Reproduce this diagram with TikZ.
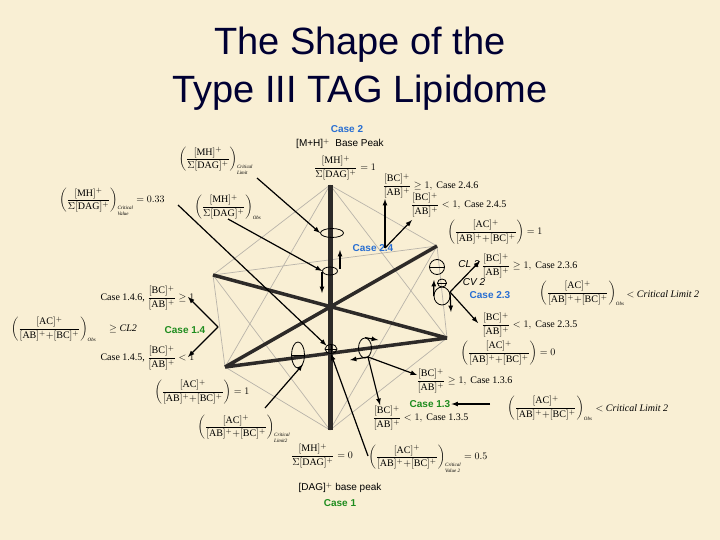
\documentclass[tikz,border=0pt]{standalone}
\usepackage{amsmath}
\usepackage{fontspec}
\usetikzlibrary{shapes.geometric}
\setmainfont{Liberation Serif}
\newfontfamily\sansf{Liberation Sans}
\newcommand\XMH{\dfrac{[\mathrm{MH}]^+}{\Sigma[\mathrm{DAG}]^+}}
\newcommand\XBC{\dfrac{[\mathrm{BC}]^+}{[\mathrm{AB}]^+}}
\newcommand\XAC{\dfrac{[\mathrm{AC}]^+}{[\mathrm{AB}]^+ {+} [\mathrm{BC}]^+}}
\newcommand\XSub[1]{\text{\tiny\itshape\begin{tabular}{@{}l@{}}#1\end{tabular}}}
\definecolor{bg}{RGB}{249,239,212}
\definecolor{cblue}{RGB}{40,110,210}
\definecolor{cgreen}{RGB}{30,140,30}
\definecolor{edge}{RGB}{185,180,170}
\definecolor{thk}{RGB}{45,42,40}
\tikzset{
 fm/.style={font=\fontsize{10}{11}\selectfont, inner sep=0.5pt},
 ttl/.style={font=\sansf\fontsize{38}{40}\selectfont, text=black!80!blue},
 cb/.style={font=\sansf\bfseries\fontsize{10}{11}\selectfont, text=cblue, inner sep=1pt},
 cg/.style={font=\sansf\bfseries\fontsize{10}{11}\selectfont, text=cgreen, inner sep=1pt},
 lbl/.style={font=\sansf\fontsize{10}{11}\selectfont, inner sep=1pt},
 thin/.style={draw=edge, line width=0.7pt},
 thick/.style={draw=thk, line width=3.5pt},
 arr/.style={-latex, line width=1.2pt},
 ell/.style={draw, line width=0.8pt}
}
\begin{document}
\begin{tikzpicture}[x=1pt,y=-1pt]
\fill[bg] (0,0) rectangle (720,540);
\useasboundingbox (0,0) rectangle (720,540);
% title
\node[ttl] (t1) at (360,45) {The Shape of the};
\node[ttl] (t2) at (360,93) {Type III TAG Lipidome};
% vertices
\coordinate (T) at (330,185);
\coordinate (Bo) at (330,430);
\coordinate (L1) at (213,275);
\coordinate (R1) at (437,246);
\coordinate (R2) at (447,338);
\coordinate (L2) at (225,367);
\draw[thin] (T)--(L1) (T)--(R1) (T)--(R2) (T)--(L2) (Bo)--(L1) (Bo)--(R1) (Bo)--(R2) (Bo)--(L2)
 (L1)--(R1) (R1)--(R2) (L1)--(L2);
\draw[thick] (L1)--(R2) (L2)--(R1) (L2)--(R2);
\draw[draw=thk, line width=5pt] (T)--(Bo);
% ellipses
\node[ell, ellipse, minimum width=23pt, minimum height=9pt, inner sep=0pt] (e1) at (332,233) {};
\node[ell, ellipse, minimum width=15pt, minimum height=8pt, inner sep=0pt] (e2) at (330,271) {};
\node[ell, circle, minimum size=15pt, inner sep=0pt] (e3) at (437,267) {};
\draw (e3.west)--(e3.east);
\node[ell, ellipse, minimum width=9pt, minimum height=8pt, inner sep=0pt] (e4) at (442,283) {};
\draw (e4.west)--(e4.east);
\node[ell, ellipse, minimum width=16pt, minimum height=18pt, inner sep=0pt] (e5) at (442,296) {};
\node[ell, ellipse, minimum width=13pt, minimum height=26pt, inner sep=0pt] (e6) at (298,355) {};
\draw (e6.west)--(e6.east);
\node[ell, ellipse, minimum width=12pt, minimum height=9pt, inner sep=0pt] (e7) at (331,349) {};
\draw (e7.west)--(e7.east) (e7.north)--(e7.south);
\node[ell, ellipse, minimum width=13pt, minimum height=20pt, inner sep=0pt] (e8) at (365,348) {};
% top labels
\node[cb] (c2) at (347,129) {Case 2};
\node[lbl] (mhp) at (340,144) {[M+H]$^+$\ \ Base Peak};
\node[fm] (f1) at (345,168) {$\XMH=1$};
\node[fm] (f2) at (216,162) {$\left(\XMH\right)_{\XSub{Critical\\Limit}}$};
\node[fm] (f3) at (112,203) {$\left(\XMH\right)_{\XSub{Critical\\Value}}=0.33$};
\node[fm] (f4) at (228,208) {$\left(\XMH\right)_{\XSub{Obs}}$};
\node[fm, anchor=west] (f5) at (382,186) {$\XBC\ge1,\ \text{Case 2.4.6}$};
\node[fm, anchor=west] (f6) at (410,205) {$\XBC<1,\ \text{Case 2.4.5}$};
\node[fm] (f7) at (495,232) {$\left(\XAC\right)=1$};
\node[cb] (c24) at (373,248) {Case 2.4};
\node[lbl, font=\sansf\itshape\fontsize{10}{11}\selectfont] (cl2) at (469,264) {CL 2};
\node[lbl, font=\sansf\itshape\fontsize{10}{11}\selectfont] (cv2) at (474,282) {CV 2};
\node[fm, anchor=west] (f8) at (481,266) {$\XBC\ge1,\ \text{Case 2.3.6}$};
\node[cb] (c23) at (490,295) {Case 2.3};
\node[fm] (f9) at (582,294) {$\left(\XAC\right)_{\XSub{Obs}}$};
\node[fm, anchor=west] (f9b) at (626,294) {$<$ \textit{Critical Limit 2}};
\node[fm, anchor=west] (f10) at (481,325) {$\XBC<1,\ \text{Case 2.3.5}$};
\node[fm] (f11) at (508,353) {$\left(\XAC\right)=0$};
\node[fm, anchor=west] (f12) at (416,381) {$\XBC\ge1,\ \text{Case 1.3.6}$};
\node[fm] (f13) at (550,409) {$\left(\XAC\right)_{\XSub{Obs}}$};
\node[cg] (c13) at (430,404) {Case 1.3};
\node[fm, anchor=west] (f13b) at (595,408) {$<$ \textit{Critical Limit 2}};
\node[fm, anchor=west] (f14) at (372,418) {$\XBC<1,\ \text{Case 1.3.5}$};
% left labels
\node[fm, anchor=east] (f15) at (195,298) {Case 1.4.6, $\XBC\ge1$};
\node[fm] (f16) at (74,330) {$\left(\XAC\right)_{\XSub{Obs}}\quad\ge \mathit{CL2}$};
\node[cg] (c14) at (185,330) {Case 1.4};
\node[fm, anchor=east] (f17) at (195,358) {Case 1.4.5, $\XBC<1$};
\node[fm] (f18) at (202,392) {$\left(\XAC\right)=1$};
\node[fm] (f19) at (244,430) {$\left(\XAC\right)_{\XSub{Critical\\Limit2}}$};
\node[fm] (f20) at (322,456) {$\XMH=0$};
\node[fm] (f21) at (428,460) {$\left(\XAC\right)_{\XSub{Critical\\Value 2}}=0.5$};
\node[lbl] (dag) at (340,488) {[DAG]$^+$ base peak};
\node[cg] (c1) at (340,503) {Case 1};
% arrow anchors
\coordinate (a1) at (257,178);
\coordinate (a2) at (228,219);
\coordinate (a3) at (178,205);
\coordinate (a4) at (385,248);
\coordinate (a5) at (450,292);
\coordinate (a6) at (218,327);
\coordinate (a7) at (265,408);
\coordinate (a8) at (368,456);
\coordinate (a9) at (368,357);
\coordinate (a10) at (490,404);
\coordinate (u1) at (340,269);
\coordinate (d1) at (322,272);
% arrows
\draw[arr] (a1) -- (e1.west);
\draw[arr] (a2) -- (e2.west);
\draw[arr] (a3) -- (e7.north west);
\draw[arr] (a4) -- (385,199);
\draw[arr] (a4) -- (412,220);
\draw[arr] (u1) -- (340,250);
\draw[arr] (d1) -- (322,293);
\draw[arr] (a5) -- (480,261);
\draw[arr] (a5) -- (478,323);
\draw[arr] (a5) -- (451,312);
\draw[arr] (e5.west) -- (434,280);
\draw[arr] (a6) -- (188,297);
\draw[arr] (a6) -- (188,357);
\draw[arr] (a7) -- (e6.south east);
\draw[arr] (a8) -- (e7.south);
\draw[arr] (a9) -- (417,375);
\draw[arr] (a9) -- (380,405);
\draw[arr] (a9) -- (350,360);
\draw[arr] (e8.north) -- (378,340);
\draw[arr] (a10) -- (c13.east);
\end{tikzpicture}
\end{document}
